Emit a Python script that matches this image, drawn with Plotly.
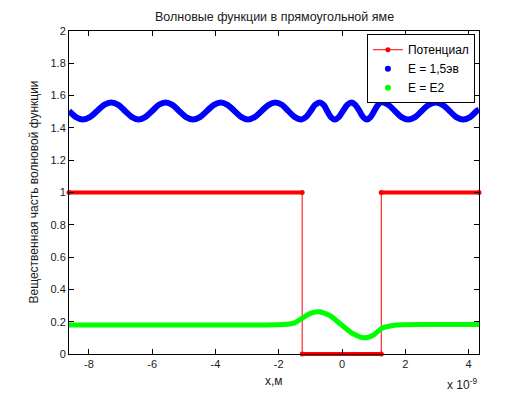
import numpy as np
import plotly.graph_objects as go

# ---- data (x in units of 1e-9 m) ----
x_min, x_max = -8.63, 4.33
well_left, well_right = -1.26, 1.24

pot_x = [x_min, well_left, well_left, well_right, well_right, x_max]
pot_y = [1, 1, 0, 0, 1, 1]

# E = 1,5 eV wave: points (extrema, crossings and shoulders)
e1_x = [-8.63, -8.41, -8.19, -7.97, -7.74, -7.52, -7.29, -7.07, -6.86, -6.64, -6.43, -6.22,
        -6.00, -5.79, -5.58, -5.36, -5.15, -4.93, -4.71, -4.49, -4.27, -4.05, -3.83, -3.62,
        -3.40, -3.18, -2.97, -2.76, -2.54, -2.32, -2.11, -1.90, -1.70, -1.49, -1.28,
        -1.14, -0.99, -0.85, -0.70, -0.58, -0.47, -0.35, -0.23, -0.10, 0.03, 0.17, 0.30,
        0.42, 0.55, 0.67, 0.79, 0.90, 1.02, 1.14, 1.25,
        1.46, 1.67, 1.88, 2.09, 2.31, 2.52, 2.74, 2.96, 3.18, 3.40, 3.61, 3.83, 4.05, 4.26, 4.33]
e1_y = [1.505, 1.467, 1.452, 1.467, 1.505, 1.543, 1.558, 1.543, 1.505, 1.467, 1.452, 1.467,
        1.505, 1.543, 1.558, 1.543, 1.505, 1.467, 1.452, 1.467, 1.505, 1.543, 1.558, 1.543,
        1.505, 1.467, 1.452, 1.467, 1.505, 1.543, 1.558, 1.543, 1.505, 1.467, 1.452,
        1.467, 1.505, 1.543, 1.558, 1.543, 1.505, 1.467, 1.452, 1.467, 1.505, 1.543, 1.558,
        1.543, 1.505, 1.467, 1.452, 1.467, 1.505, 1.543, 1.558,
        1.543, 1.505, 1.467, 1.452, 1.467, 1.505, 1.543, 1.558, 1.543, 1.505, 1.467, 1.452, 1.467, 1.505, 1.514]

# E = E2 wave
e2_x = [-8.63, -3.0, -2.0, -1.75, -1.5, -1.27, -1.0, -0.74, -0.4, -0.04, 0.35, 0.70, 1.0, 1.25, 1.6, 1.9, 3.0, 4.33]
e2_y = [0.180, 0.180, 0.181, 0.184, 0.193, 0.220, 0.252, 0.262, 0.240, 0.184, 0.125, 0.100, 0.118, 0.158, 0.176, 0.181, 0.182, 0.182]

y_ticks = [0, 0.2, 0.4, 0.6, 0.8, 1, 1.2, 1.4, 1.6, 1.8, 2]
x_ticks = [-8, -6, -4, -2, 0, 2, 4]

RED, BLUE, GREEN = "#ff0000", "#0000ff", "#00ff00"
FONT = "Liberation Sans, Arial, sans-serif"
TXT = "#1a1a1a"

fig = go.Figure()

# thin potential line (with vertical walls)
fig.add_trace(go.Scatter(x=pot_x, y=pot_y, mode="lines+markers", name="Потенциал",
                         line=dict(color=RED, width=1), marker=dict(color=RED, size=5),
                         cliponaxis=False))
# thick (dense-dot) horizontal parts of the potential
for i in (0, 4):
    fig.add_trace(go.Scatter(x=pot_x[i:i + 2], y=pot_y[i:i + 2], mode="lines",
                             line=dict(color=RED, width=4), showlegend=False, hoverinfo="skip"))
bottom_x = np.linspace(pot_x[2], pot_x[3], 80)
fig.add_trace(go.Scatter(x=bottom_x, y=np.full_like(bottom_x, pot_y[2]), mode="markers",
                         marker=dict(color=RED, size=4), cliponaxis=False,
                         showlegend=False, hoverinfo="skip"))

fig.add_trace(go.Scatter(x=e1_x, y=e1_y, mode="lines",
                         line=dict(color=BLUE, width=6, shape="spline", smoothing=1.0),
                         showlegend=False))
fig.add_trace(go.Scatter(x=e2_x, y=e2_y, mode="lines",
                         line=dict(color=GREEN, width=5, shape="spline", smoothing=0.8),
                         showlegend=False))
# legend entries (markers only)
fig.add_trace(go.Scatter(x=[None], y=[None], mode="markers", name="E = 1,5эв",
                         marker=dict(color=BLUE, size=6)))
fig.add_trace(go.Scatter(x=[None], y=[None], mode="markers", name="E = E2",
                         marker=dict(color=GREEN, size=6)))

axis_common = dict(showline=True, linecolor="black", linewidth=1, mirror="ticks",
                   ticks="inside", ticklen=5, tickcolor="black", showgrid=False, zeroline=False,
                   tickfont=dict(family=FONT, size=11, color=TXT))

# the page body has an 8px margin, so the figure is sized to fit the 529x397 window
fig.update_layout(
    width=521, height=389,
    margin=dict(l=61, r=50, t=23, b=43),
    paper_bgcolor="white", plot_bgcolor="white",
    font=dict(family=FONT, size=11, color=TXT),
    xaxis=dict(range=[x_min, x_max], tickvals=x_ticks, ticktext=[str(v) for v in x_ticks], **axis_common),
    yaxis=dict(range=[0, 2], tickvals=y_ticks, **axis_common),
    showlegend=True,
    legend=dict(x=0.99, xanchor="right", y=0.99, yanchor="top", bgcolor="white",
                bordercolor="black", borderwidth=1, font=dict(family=FONT, size=12, color="black"),
                itemwidth=30, tracegroupgap=0),
    annotations=[
        dict(text="Волновые функции в прямоугольной яме", xref="paper", yref="paper",
             x=0.5, y=1 + 14 / 323, xanchor="center", yanchor="middle", showarrow=False,
             font=dict(family=FONT, size=12.5, color=TXT)),
        dict(text="x,м", xref="paper", yref="paper", x=0.5, y=-27 / 323, xanchor="center",
             yanchor="middle", showarrow=False, font=dict(family=FONT, size=12, color=TXT)),
        dict(text="x 10<sup>-9</sup>", xref="paper", yref="paper", x=1.0, y=-30 / 323, xanchor="right",
             yanchor="middle", showarrow=False, font=dict(family=FONT, size=12, color=TXT)),
        dict(text="Вещественная часть волновой функции", xref="paper", yref="paper",
             x=-36 / 410, y=0.5, xanchor="center", yanchor="middle", textangle=-90, showarrow=False,
             font=dict(family=FONT, size=12, color=TXT)),
    ],
)

fig.write_html("out.html")
